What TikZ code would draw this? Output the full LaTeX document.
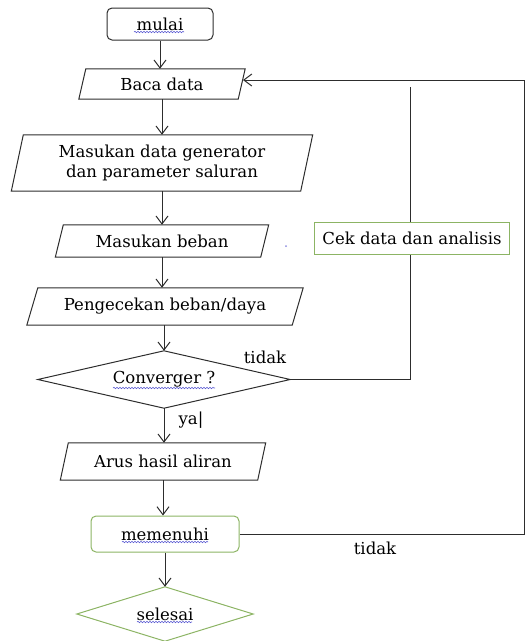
\documentclass[tikz,border=0pt]{standalone}
\usepackage{fontspec}
\setmainfont{DejaVu Serif}
\usetikzlibrary{arrows.meta,calc,decorations.pathmorphing}
\definecolor{boxgreen}{RGB}{140,180,100}
\definecolor{linegray}{RGB}{45,45,45}
\definecolor{wavyblue}{RGB}{90,90,210}
\tikzset{
  base/.style={inner sep=0pt, font=\fontsize{16.5}{20.5}\selectfont, align=center, text=black},
  shapeline/.style={draw=linegray, line width=1pt},
  flow/.style={draw=linegray, line width=1pt, -{Straight Barb[length=8pt,width=12pt]}},
  plainline/.style={draw=linegray, line width=1pt},
  lbl/.style={inner sep=0pt, font=\fontsize{16.5}{20.5}\selectfont},
  wavy/.style={draw=wavyblue, line width=0.6pt, decorate, decoration={snake, amplitude=0.7pt, segment length=3pt}}
}
\newcommand\drawpara[2]{%
  \draw[shapeline] ($(#1.north west)+(#2,0)$) -- ($(#1.north east)+(#2,0)$) -- ($(#1.south east)-(#2,0)$) -- ($(#1.south west)-(#2,0)$) -- cycle;}
\newcommand\drawdiam[2]{%
  \draw[#2] (#1.north) -- (#1.east) -- (#1.south) -- (#1.west) -- cycle;}
\begin{document}
\begin{tikzpicture}[x=1pt,y=-1pt]
\useasboundingbox (0,0) rectangle (526,641);
% nodes
\node[base, draw=linegray, line width=1pt, rounded corners=5pt, minimum width=106pt, minimum height=32pt] (mulai) at (160,24) {mulai};
\node[base, minimum width=159pt, minimum height=30pt] (baca) at (162,84) {Baca data};
\node[base, minimum width=289pt, minimum height=56pt] (gen) at (162,163) {Masukan data generator\\dan parameter saluran};
\node[base, minimum width=205pt, minimum height=32pt] (beban) at (162,241) {Masukan beban};
\node[base, minimum width=265pt, minimum height=37pt] (cekbeban) at (165,306.5) {Pengecekan beban/daya};
\node[base, minimum width=252pt, minimum height=57pt] (conv) at (164,379.5) {Converger ?};
\node[base, minimum width=197pt, minimum height=37pt] (arus) at (163,461.5) {Arus hasil aliran};
\node[base, draw=boxgreen, line width=1pt, rounded corners=5pt, minimum width=148pt, minimum height=36pt] (penuh) at (165,534) {memenuhi};
\node[base, minimum width=176pt, minimum height=54pt] (selesai) at (165,614) {selesai};
\node[base, draw=boxgreen, line width=1pt, minimum width=195pt, minimum height=32pt] (analisis) at (412,238) {Cek data dan analisis};
% shapes
\drawpara{baca}{3.5}
\drawpara{gen}{6}
\drawpara{beban}{4}
\drawpara{cekbeban}{5.5}
\drawpara{arus}{4}
\drawdiam{conv}{shapeline}
\drawdiam{selesai}{draw=boxgreen, line width=1pt}
% labels
\node[lbl] (t1) at (265,357) {tidak};
\node[lbl] (ya) at (191,420) {ya|};
\node[lbl] (t2) at (375,548) {tidak};
\fill[wavyblue!70] (286,246) circle (1pt);
% wavy underlines
\draw[wavy] (134,32) -- (184,32);
\draw[wavy] (113,388) -- (215,388);
\draw[wavy] (122,542) -- (208,542);
\draw[wavy] (137,622) -- (192,622);
% coordinates
\coordinate (rt) at (524,80);
\coordinate (rb) at (524,534);
\coordinate (bacaR) at (243,80);
\coordinate (vtop) at (410,87);
\coordinate (vbot) at (410,379.5);
% connectors
\draw[flow] (mulai.south) -- (mulai.south |- baca.north);
\draw[flow] (baca.south) -- (baca.south |- gen.north);
\draw[flow] (gen.south) -- (gen.south |- beban.north);
\draw[flow] (beban.south) -- (beban.south |- cekbeban.north);
\draw[flow] (cekbeban.south -| conv.north) -- (conv.north);
\draw[flow] (conv.south) -- (conv.south |- arus.north);
\draw[flow] (arus.south) -- (arus.south |- penuh.north);
\draw[flow] (penuh.south) -- (penuh.south |- selesai.north);
\draw[plainline] (conv.east) -- (vbot) -- (analisis.south -| vbot);
\draw[plainline] (analisis.north -| vtop) -- (vtop);
\draw[plainline] (penuh.east) -- (rb) -- (rt);
\draw[flow] (rt) -- (bacaR);
\end{tikzpicture}
\end{document}
